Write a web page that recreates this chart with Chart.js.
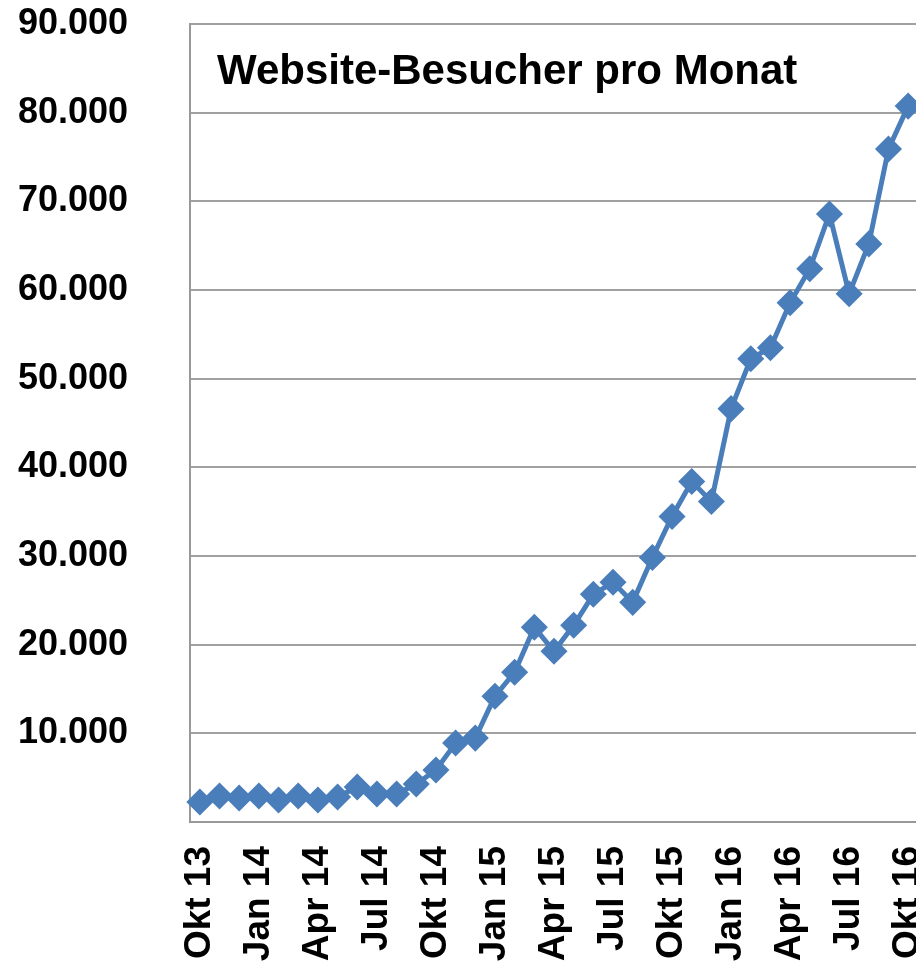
<!DOCTYPE html>
<html>
<head>
<meta charset="utf-8">
<script src="https://cdn.jsdelivr.net/npm/chart.js@4.4.1/dist/chart.umd.min.js"></script>
<style>
  html, body { margin: 0; padding: 0; background: #fff; overflow: hidden; }
  #wrap { width: 920px; height: 963px; }
</style>
</head>
<body>
<div id="wrap"><canvas id="visitorChart" width="920" height="963"></canvas></div>
<script>
const months = [
  'Okt 13', 'Nov 13', 'Dez 13', 'Jan 14', 'Feb 14', 'Mrz 14', 'Apr 14', 'Mai 14', 'Jun 14',
  'Jul 14', 'Aug 14', 'Sep 14', 'Okt 14', 'Nov 14', 'Dez 14', 'Jan 15', 'Feb 15', 'Mrz 15',
  'Apr 15', 'Mai 15', 'Jun 15', 'Jul 15', 'Aug 15', 'Sep 15', 'Okt 15', 'Nov 15', 'Dez 15',
  'Jan 16', 'Feb 16', 'Mrz 16', 'Apr 16', 'Mai 16', 'Jun 16', 'Jul 16', 'Aug 16', 'Sep 16', 'Okt 16'
];

const visitors = [
  2250, 2930, 2700, 2930, 2480, 2930, 2480, 2820, 3940,
  3150, 3150, 4280, 5860, 8900, 9460, 14190, 16890, 21960,
  19260, 22180, 25680, 27030, 24770, 29840, 34460, 38400, 36150,
  46620, 52250, 53490, 58560, 62390, 68580, 59570, 65200, 75900, 80740
];

const chartTitle = 'Website-Besucher pro Monat';

const fontFamily = 'Liberation Sans, Arial, sans-serif';

// title sits inside the plot area, top left
const innerTitle = {
  id: 'innerTitle',
  afterDraw(chart) {
    const { ctx, chartArea } = chart;
    ctx.save();
    ctx.fillStyle = '#000';
    ctx.font = 'bold 42px "Liberation Sans", Arial, sans-serif';
    ctx.textBaseline = 'alphabetic';
    ctx.fillText(chartTitle, chartArea.left + 27, chartArea.top + 60);
    ctx.restore();
  }
};

// fixed axis sizes, no extra room for overhanging labels
function fixSize(prop, size) {
  return (scale) => {
    scale[prop] = size;
    scale.paddingTop = 0;
    scale.paddingBottom = 0;
    scale.paddingLeft = 0;
    scale.paddingRight = 0;
  };
}

new Chart(document.getElementById('visitorChart'), {
  type: 'line',
  data: {
    labels: months,
    datasets: [{
      label: 'Besucher',
      data: visitors,
      borderColor: '#4a7ebb',
      backgroundColor: '#4a7ebb',
      borderWidth: 5,
      pointStyle: 'rectRot',
      pointRadius: 10,
      tension: 0
    }]
  },
  options: {
    responsive: false,
    animation: false,
    layout: { autoPadding: false, padding: { top: 24, right: 2, left: 0, bottom: 0 } },
    plugins: {
      legend: { display: false },
      tooltip: { enabled: false }
    },
    scales: {
      x: {
        offset: true,
        grid: { display: false, drawTicks: false },
        border: { display: true, color: '#999', width: 2 },
        ticks: {
          autoSkip: false,
          minRotation: 90,
          maxRotation: 90,
          padding: 24,
          color: '#000',
          font: { family: fontFamily, size: 37, weight: 'bold' },
          callback: (v, i) => (i % 3 === 0 ? months[i] : '')
        },
        afterFit: fixSize('height', 141)
      },
      y: {
        min: 0,
        max: 90000,
        grid: { color: '#a0a0a0', lineWidth: 2, drawTicks: false },
        border: { display: true, color: '#999', width: 2 },
        ticks: {
          stepSize: 10000,
          padding: 62,
          color: '#000',
          font: { family: fontFamily, size: 36, weight: 'bold' },
          callback: (v) => (v === 0 ? '' : v.toLocaleString('de-DE'))
        },
        afterFit: fixSize('width', 190)
      }
    }
  },
  plugins: [innerTitle]
});
</script>
</body>
</html>
